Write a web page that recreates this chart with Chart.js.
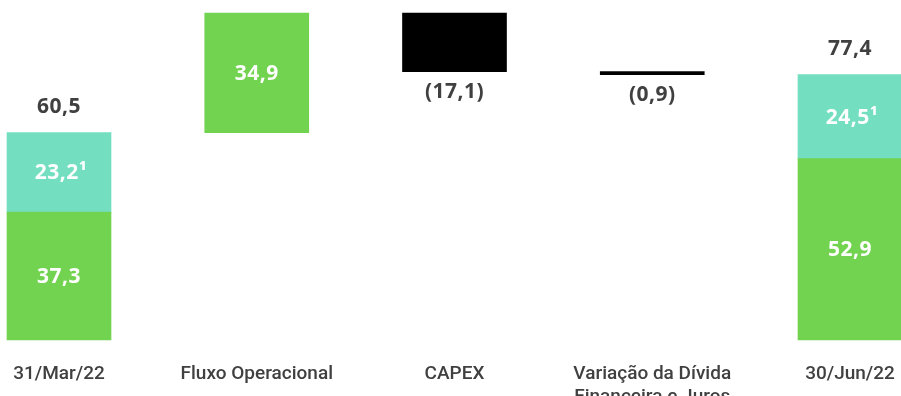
<!DOCTYPE html>
<html>
<head>
<meta charset="utf-8">
<script src="https://cdn.jsdelivr.net/npm/chart.js@4"></script>
<style>
  html, body { margin: 0; padding: 0; background: #ffffff; }
  #wrap { width: 901px; height: 396px; position: relative; }
</style>
</head>
<body>
<div id="wrap"><canvas id="c" width="901" height="396"></canvas></div>
<script>
// ---- data ----
const categories = ['31/Mar/22', 'Fluxo Operacional', 'CAPEX', ['Variação da Dívida', 'Financeira e Juros'], '30/Jun/22'];
const openingParts = [37.3, 23.2];   // [green, teal] at 31/Mar/22
const flows = [34.9, -17.1, -0.9];   // Fluxo Operacional, CAPEX, Variação da Dívida
const closingParts = [52.9, 24.5];   // [green, teal] at 30/Jun/22
const totals = [60.5, 77.4];         // labels above the two stock bars
const footnote = '¹';

const GREEN = '#72d350', TEAL = '#74dfc0', BLACK = '#000000', GRAY = '#404040';

// ---- build floating ranges ----
const n = categories.length;
const greenData = new Array(n).fill(null);
const tealData = new Array(n).fill(null);
const blackData = new Array(n).fill(null);
greenData[0] = [0, openingParts[0]];
tealData[0] = [openingParts[0], openingParts[0] + openingParts[1]];
let run = totals[0];
flows.forEach((f, i) => {
  const r = [run, run + f];
  if (f >= 0) greenData[i + 1] = r; else blackData[i + 1] = r;
  run = run + f;
});
greenData[n - 1] = [0, closingParts[0]];
tealData[n - 1] = [closingParts[0], closingParts[0] + closingParts[1]];
const yMax = Math.max(...[...greenData, ...tealData, ...blackData].filter(Boolean).flat());

const fmt = v => Math.abs(v).toFixed(1).replace('.', ',');

const labelPlugin = {
  id: 'valueLabels',
  afterDatasetsDraw(chart) {
    const ctx = chart.ctx;
    ctx.save();
    ctx.textAlign = 'center';
    ctx.textBaseline = 'middle';
    try { ctx.letterSpacing = '0.5px'; } catch (e) {}
    const inFont = '700 21px "Open Sans"';
    chart.data.datasets.forEach((ds, di) => {
      const meta = chart.getDatasetMeta(di);
      meta.data.forEach((el, i) => {
        const raw = ds.data[i];
        if (!raw) return;
        const top = Math.min(el.y, el.base), bot = Math.max(el.y, el.base);
        const v = raw[1] - raw[0];
        ctx.font = inFont;
        if (ds.kind === 'green') {
          ctx.fillStyle = '#ffffff';
          ctx.fillText(fmt(v), el.x, (top + bot) / 2 + 1);
        } else if (ds.kind === 'teal') {
          ctx.fillStyle = '#ffffff';
          ctx.fillText(fmt(v) + footnote, el.x + 2, (top + bot) / 2 + 1);
          const t = i === 0 ? totals[0] : totals[1];
          ctx.fillStyle = GRAY;
          ctx.fillText(fmt(t), el.x, top - 26);
        } else if (ds.kind === 'black') {
          ctx.fillStyle = GRAY;
          ctx.fillText('(' + fmt(v) + ')', el.x, bot + 20);
        }
      });
    });
    ctx.restore();
  }
};

new Chart(document.getElementById('c'), {
  type: 'bar',
  data: {
    labels: categories,
    datasets: [
      { kind: 'green', data: greenData, backgroundColor: GREEN },
      { kind: 'teal', data: tealData, backgroundColor: TEAL },
      { kind: 'black', data: blackData, backgroundColor: BLACK }
    ]
  },
  options: {
    responsive: false,
    animation: false,
    layout: { padding: { left: 59, right: 51, top: 13, bottom: 0 } },
    datasets: { bar: { grouped: false, barThickness: 104, clip: false, borderWidth: 0, borderSkipped: false } },
    plugins: { legend: { display: false }, tooltip: { enabled: false } },
    scales: {
      x: {
        offset: false,
        grid: { display: false },
        border: { display: false },
        ticks: {
          color: GRAY,
          font: { family: 'Roboto', weight: '500', size: 19, lineHeight: 1.2 },
          padding: 15,
          maxRotation: 0,
          autoSkip: false
        },
        afterFit: s => {
          s.height = 56;
          s.paddingLeft = 0; s.paddingRight = 0;
          s.paddingTop = 0; s.paddingBottom = 0;
        }
      },
      y: {
        display: false,
        min: 0,
        max: yMax
      }
    }
  },
  plugins: [labelPlugin]
});
</script>
</body>
</html>
